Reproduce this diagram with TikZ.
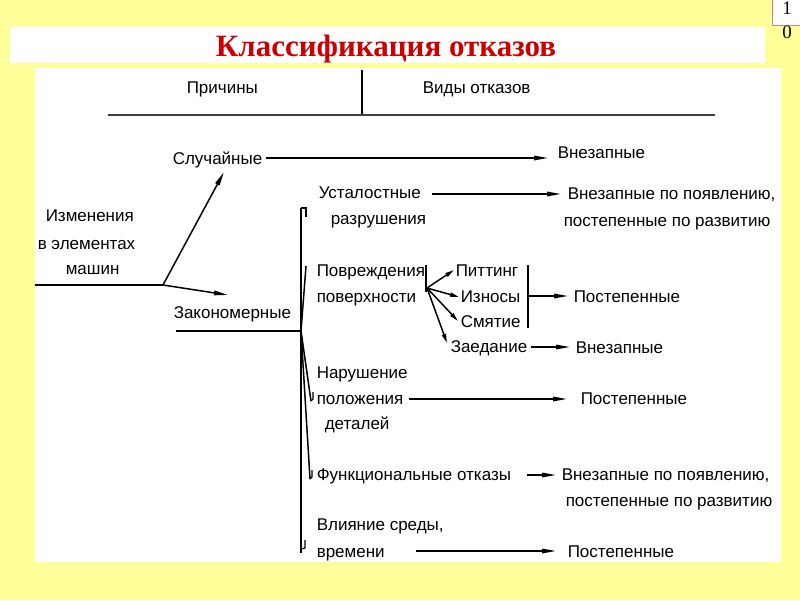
\documentclass[tikz,border=0pt]{standalone}
\usepackage{fontspec}
\setmainfont{Liberation Sans}
\newfontfamily\titlefont{Liberation Serif}
\usetikzlibrary{arrows.meta}
\definecolor{bgyellow}{RGB}{255,255,153}
\definecolor{titlered}{RGB}{204,0,0}
\definecolor{boxred}{RGB}{224,128,128}
\begin{document}
\begin{tikzpicture}[x=1pt,y=-1pt, line width=1.5pt,
  lbl/.style={font=\fontsize{17}{20}\selectfont, inner sep=0pt, anchor=base west},
  arr/.style={-{Triangle[length=14pt,width=4.5pt]}},
  sarr/.style={-{Triangle[length=9pt,width=4pt]}},
  hook/.style={line width=1.2pt}]
\useasboundingbox (0,0) rectangle (800,600);
\fill[bgyellow] (0,0) rectangle (800,600);
% title band
\fill[white] (10,27) rectangle (765,63);
\node[font=\titlefont\bfseries\fontsize{31}{34}\selectfont, text=titlered, anchor=base, inner sep=0pt] (title) at (386,56) {Классификация отказов};
% page number box
\draw[boxred, fill=white, line width=0.8pt] (772,-3) rectangle (803,25);
\node[font=\titlefont\fontsize{19}{20}\selectfont, anchor=base, inner sep=0pt] (pn1) at (787,14) {1};
\node[font=\titlefont\fontsize{19}{20}\selectfont, anchor=base, inner sep=0pt] (pn0) at (787,38) {0};
% main panel
\fill[white] (35,68) rectangle (781,562);
% header
\node[lbl] (hcause) at (186,93) {Причины};
\node[lbl] (htype) at (422,93) {Виды отказов};
\coordinate (dtop) at (362,70);
\coordinate (dbot) at (362,115);
\coordinate (hl) at (108,115);
\coordinate (hr) at (715,115);
\draw[line width=1.2pt] (dtop) -- (dbot);
\draw[line width=2.4pt, black!75] (hl) -- (hr);
% left block
\node[lbl] (iz1) at (45,221) {Изменения};
\node[lbl] (iz2) at (37,249) {в элементах};
\node[lbl] (iz3) at (65,274) {машин};
\coordinate (lstart) at (35,285);
\coordinate (lj) at (163,285);
\draw (lstart) -- (lj);
\node[lbl] (sl) at (172,164) {Случайные};
\node[lbl] (zak) at (173,318) {Закономерные};
\coordinate (sltip) at (224,172);
\coordinate (zaktip) at (228,295);
\draw[arr] (lj) -- (sltip);
\draw[arr] (lj) -- (zaktip);
\node[lbl] (vn1) at (557,158) {Внезапные};
\draw[arr] ([xshift=3pt]sl.east |- 0,158) -- (548,158);
% Zakonomernye underline and fan
\coordinate (zl) at (176,331);
\coordinate (fj) at (301,331);
\draw (zl) -- (fj);
\coordinate (ftop) at (301,208);
\coordinate (fbot) at (301,553);
\draw (ftop) -- (fbot);
\draw[hook] (ftop) -- ++(5,0) -- ++(0,9);
\draw[hook] (fbot) ++(0,-4) -- ++(4,-1) -- ++(0,-8);
\coordinate (fpov) at (306,266);
\coordinate (fnar) at (311,401);
\coordinate (ffun) at (310,479);
\draw (fj) -- (fpov);
\draw (fj) -- (fnar);
\draw[hook] (fnar) -- ++(2,-2) -- ++(0,-7);
\draw (fj) -- (ffun);
\draw[hook] (ffun) -- ++(2,-2) -- ++(0,-7);
% Ustalostnye
\node[lbl] (us1) at (318,198) {Усталостные};
\node[lbl] (us2) at (330,224) {разрушения};
\node[lbl] (vp1) at (567,199) {Внезапные по появлению,};
\node[lbl] (vp2) at (563,226) {постепенные по развитию};
\coordinate (usa) at (432,194);
\draw[arr] (usa) -- ([xshift=-6pt]vp1.west |- usa);
% Povrezhdeniya
\node[lbl] (pov1) at (316,276) {Повреждения};
\node[lbl] (pov2) at (316,302) {поверхности};
\coordinate (pbt) at (426,265);
\coordinate (pbb) at (426,292);
\draw[line width=1.2pt] (pbt) -- (pbb);
\coordinate (pj) at (427,288);
\node[lbl] (pit) at (455,276) {Питтинг};
\node[lbl] (izn) at (460,302) {Износы};
\node[lbl] (smy) at (460,327) {Смятие};
\node[lbl] (zae) at (450,352) {Заедание};
\draw[sarr] (pj) -- (454,270);
\draw[sarr] (pj) -- (459,297);
\draw[sarr] (pj) -- (458,321);
\draw[sarr] (pj) -- (447,343);
\coordinate (bbt) at (528,265);
\coordinate (bbb) at (528,328);
\draw[line width=1.2pt] (bbt) -- (bbb);
\node[lbl] (post1) at (573,302) {Постепенные};
\coordinate (bbm) at (528,296);
\draw[arr] (bbm) -- (568,296);
\node[lbl] (vn2) at (575,353) {Внезапные};
\draw[arr] ([xshift=3pt]zae.east |- 0,347) -- (570,347);
% Narushenie
\node[lbl] (nar1) at (316,378) {Нарушение};
\node[lbl] (nar2) at (316,404) {положения};
\node[lbl] (nar3) at (324,429) {деталей};
\node[lbl] (post2) at (580,404) {Постепенные};
\draw[arr] (409,399) -- (567,399);
% Funktsionalnye
\node[lbl] (fun) at (316,480) {Функциональные отказы};
\node[lbl] (vp3) at (561,480) {Внезапные по появлению,};
\node[lbl] (vp4) at (565,506) {постепенные по развитию};
\draw[arr] (527,475) -- (556,475);
% Vliyanie
\node[lbl] (vl1) at (316,530) {Влияние среды,};
\node[lbl] (vl2) at (316,557) {времени};
\node[lbl] (post3) at (567,557) {Постепенные};
\draw[arr] (416,551) -- (556,551);
\end{tikzpicture}
\end{document}
